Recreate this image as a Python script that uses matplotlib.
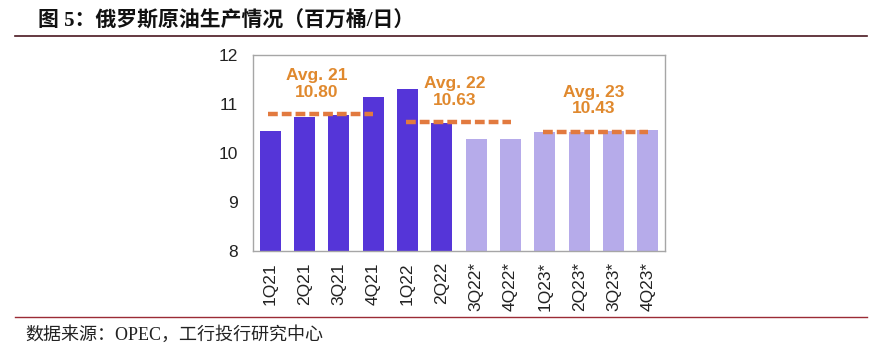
import matplotlib
matplotlib.use("Agg")
import matplotlib.pyplot as plt
from matplotlib.patches import Rectangle

plt.rcParams['font.family'] = ['Noto Sans CJK SC', 'DejaVu Sans']

categories = ["1Q21", "2Q21", "3Q21", "4Q21", "1Q22", "2Q22",
              "3Q22*", "4Q22*", "1Q23*", "2Q23*", "3Q23*", "4Q23*"]
values = [10.45, 10.73, 10.77, 11.15, 11.31, 10.61,
          10.28, 10.29, 10.42, 10.42, 10.44, 10.46]
is_forecast = [False] * 6 + [True] * 6
avg_labels = ["Avg. 21", "Avg. 22", "Avg. 23"]
avg_values = [10.80, 10.63, 10.43]
avg_ranges = [(0, 3), (4, 7), (8, 11)]
avg_text_pos = [(1.36, 11.41), (5.38, 11.245), (9.43, 11.07)]

dark = "#5535D8"
light = "#B6ABEA"
orange = "#E27A3F"
text_orange = "#E0892E"
W, H = 883, 360

fig = plt.figure(figsize=(8.83, 3.6), dpi=100)
ax = fig.add_axes([253 / W, 1 - 251 / H, 412 / W, 196 / H])

x = list(range(len(categories)))
colors = [light if f else dark for f in is_forecast]
ax.bar(x, values, width=0.61, color=colors, zorder=2)

for (a, b), v in zip(avg_ranges, avg_values):
    ax.plot([a - 0.05, b], [v, v], color=orange, lw=3.2, ls=(0, (2.2, 0.9)),
            zorder=3, solid_capstyle='butt', dash_capstyle='butt')

for (tx, ty), lab, v in zip(avg_text_pos, avg_labels, avg_values):
    ax.text(tx, ty, f"{lab}\n{v:.2f}", color=text_orange,
            fontsize=12.5, fontweight='bold', ha='center', va='center',
            family=['Liberation Sans'], linespacing=1.1, zorder=4)

ax.set_ylim(8, 12)
ax.set_xlim(-0.5, 11.5)
ax.set_yticks([8, 9, 10, 11, 12])
ax.set_xticks(x)
ax.set_xticklabels(categories, rotation=90, family=['Liberation Sans'])
ax.tick_params(axis='both', length=0, labelsize=12.5, colors="#222222")
ax.tick_params(axis='y', pad=11)
ax.tick_params(axis='x', pad=8)
for lab in ax.get_yticklabels():
    lab.set_family(['Liberation Sans'])
for s in ax.spines.values():
    s.set_color("#A6A6A6")
    s.set_linewidth(1.0)

# white band clipping the bottom of the rotated labels, as in the source image
fig.add_artist(Rectangle((0, 0), 1, 1 - 311.5 / H, transform=fig.transFigure,
                         facecolor="white", edgecolor="none", zorder=5))

fig.text(38 / W, 1 - 21 / H, "图 5：俄罗斯原油生产情况（百万桶/日）",
         fontsize=15, fontweight='bold', ha='left', va='center', color="#111111",
         family=['Liberation Serif', 'Noto Sans CJK SC'], zorder=6)
fig.add_artist(plt.Line2D([15 / W, 867 / W], [1 - 35.5 / H, 1 - 35.5 / H],
                          color="#4A1820", lw=1.2, zorder=6))
fig.add_artist(plt.Line2D([15 / W, 867 / W], [1 - 317 / H, 1 - 317 / H],
                          color="#9B2B35", lw=1.0, zorder=6))
fig.text(25 / W, 1 - 335 / H, "数据来源：OPEC，工行投行研究中心",
         fontsize=13, ha='left', va='center', color="#222222",
         family=['Liberation Serif', 'Noto Sans CJK SC'], zorder=6)

fig.savefig("out.png", dpi=100)
